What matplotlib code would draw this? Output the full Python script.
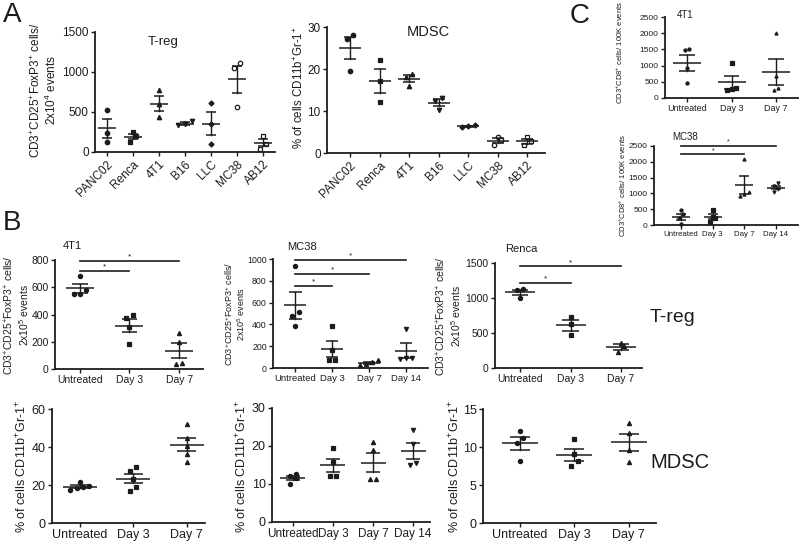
import numpy as np
import matplotlib
matplotlib.use('Agg')
import matplotlib.pyplot as plt

plt.rcParams['font.family'] = ['Liberation Sans', 'DejaVu Sans']
plt.rcParams['mathtext.fontset'] = 'custom'
plt.rcParams['mathtext.rm'] = 'Liberation Sans'
plt.rcParams['mathtext.it'] = 'Liberation Sans:italic'
plt.rcParams['mathtext.bf'] = 'Liberation Sans:bold'

# ---------------- data ----------------
A_cats = ['PANC02', 'Renca', '4T1', 'B16', 'LLC', 'MC38', 'AB12']
A_markers = ['o', 's', '^', 'v', 'D', 'o', 's']
A_filled = [True, True, True, True, True, False, False]
A_treg = [[524, 126, 240], [250, 130, 200], [775, 600, 440], [385, 335, 348],
          [616, 347, 105], [1110, 1047, 566], [197, 42, 105]]
A_mdsc = [[28.2, 27.1, 19.6], [22.1, 17.1, 12.1], [18.9, 18.2, 16.0], [13.2, 12.4, 10.3],
          [6.6, 6.4, 6.2], [3.8, 3.0, 2.0], [3.7, 2.8, 1.8]]

days3 = ['Untreated', 'Day 3', 'Day 7']
days4 = ['Untreated', 'Day 3', 'Day 7', 'Day 14']
day_markers = ['o', 's', '^', 'v']

C_4t1 = [[1512, 1470, 926, 463], [1080, 310, 290, 260], [2006, 668, 309, 257]]
C_mc38 = [[475, 338, 211, 30], [475, 264, 211, 105], [2100, 1040, 990, 930],
          [1318, 1234, 1128, 1055]]
C_mc38_sig = [(0, 2, 2236), (0, 3, 2510)]

B_treg_4t1 = [[682, 583, 554, 548], [400, 375, 305, 185], [263, 198, 44, 37]]
B_treg_4t1_sig = [(0, 1, 722), (0, 2, 795)]
B_treg_mc38 = [[939, 511, 474, 382], [382, 162, 76, 76], [76, 52, 40, 31], [361, 95, 90, 85]]
B_treg_mc38_sig = [(0, 1, 755), (0, 2, 865), (0, 3, 994)]
B_treg_renca = [[1130, 1110, 1005], [724, 625, 473], [364, 310, 222]]
B_treg_renca_sig = [(0, 1, 1221), (0, 2, 1458)]

B_mdsc_4t1 = [[21.4, 19.6, 18.9, 18.4, 17.2], [29.5, 27.5, 23, 19, 17],
              [52.1, 44.7, 40.7, 36.5, 31.9]]
B_mdsc_mc38 = [[12.7, 12.0, 11.6, 10.1], [19.6, 15.8, 12.1, 12.0],
               [21.1, 18.9, 11.4, 11.2], [24.1, 20.4, 15.4, 14.9]]
B_mdsc_renca = [[12.1, 11.2, 10.5, 8.1], [11.1, 9.1, 8.1, 7.5], [13.1, 11.8, 9.6, 8.0]]

# ---------------- drawing ----------------
W, H = 800, 546
fig = plt.figure(figsize=(8, 5.46), dpi=100)
INK = '#1c1c1c'


def make_ax(l, t, r, b):
    return fig.add_axes([l / W, 1 - b / H, (r - l) / W, (b - t) / H])


def swarm_offsets(vals, py, diam):
    order = np.argsort(vals)
    offs = np.zeros(len(vals))
    rows, cur = [], [order[0]]
    for k in order[1:]:
        if (vals[k] - vals[cur[0]]) * py < diam:
            cur.append(k)
        else:
            rows.append(cur)
            cur = [k]
    rows.append(cur)
    for row in rows:
        n = len(row)
        for j, k in enumerate(row):
            offs[k] = (j - (n - 1) / 2) * diam
    return offs


def dotplot(ax, groups, labels, markers, filled, xlim, ylim, yticks, mean_hw, ms,
            fs_tick, rot=0, sig=None, star_fs=6, fs_xtick=None):
    ax.set_xlim(*xlim)
    ax.set_ylim(*ylim)
    pos = ax.get_position()
    wpx, hpx = pos.width * W, pos.height * H
    ux = (xlim[1] - xlim[0]) / wpx
    py = hpx / (ylim[1] - ylim[0])
    diam = ms * 100 / 72 * 1.5
    for i, vals in enumerate(groups):
        vals = np.asarray(vals, float)
        offs = swarm_offsets(vals, py, diam)
        mk = markers[i]
        ax.plot(i + offs * ux, vals, ls='none', marker=mk,
                ms=ms * (0.8 if mk == 'D' else 1.0),
                mfc=INK if filled[i] else 'white', mec=INK, mew=0.9,
                clip_on=False, zorder=3)
        m = vals.mean()
        s = vals.std(ddof=1) / np.sqrt(len(vals))
        ax.plot([i - mean_hw * ux, i + mean_hw * ux], [m, m], color=INK, lw=1.1,
                zorder=4, solid_capstyle='butt')
        cw = mean_hw * 0.55
        for yy in (m - s, m + s):
            ax.plot([i - cw * ux, i + cw * ux], [yy, yy], color=INK, lw=1.1,
                    zorder=4, solid_capstyle='butt')
        ax.plot([i, i], [m - s, m + s], color=INK, lw=1.0, zorder=4)
    if sig:
        for a, b, y in sig:
            ax.plot([a, b], [y, y], color=INK, lw=1.2, clip_on=False)
            ax.text((a + b) / 2, y, '*', ha='center', va='bottom', fontsize=star_fs,
                    color=INK)
    for sp in ('top', 'right'):
        ax.spines[sp].set_visible(False)
    for sp in ('left', 'bottom'):
        ax.spines[sp].set_linewidth(1.3)
        ax.spines[sp].set_color(INK)
    ax.set_yticks(yticks)
    ax.set_xticks(range(len(groups)))
    if rot:
        ax.set_xticklabels(labels, rotation=rot, ha='right', rotation_mode='anchor')
    else:
        ax.set_xticklabels(labels)
    ax.tick_params(direction='out', length=3, width=1, colors=INK, labelsize=fs_tick,
                   pad=1.5)
    if fs_xtick:
        ax.tick_params(axis='x', labelsize=fs_xtick)
    ax.patch.set_alpha(0)


def ylab(x, y, s, fs):
    fig.text(x / W, 1 - y / H, s, rotation=90, ha='center', va='center', fontsize=fs,
             color=INK, linespacing=1.1, multialignment='center')


def label(x, y, s, fs):
    fig.text(x / W, 1 - y / H, s, ha='center', va='center', fontsize=fs, color=INK)


treg_lab = 'CD3$^{+}$CD25$^{+}$FoxP3$^{+}$ cells/\n2x10$^{%s}$ events'
mdsc_lab = '% of cells CD11b$^{+}$Gr-1$^{+}$'
cd8_lab = 'CD3$^{+}$CD8$^{+}$ cells/ 100K events'

# Panel A
ax = make_ax(95, 32, 275, 152)
dotplot(ax, A_treg, A_cats, A_markers, A_filled, (-0.46, 6.46), (0, 1500),
        [0, 500, 1000, 1500], 9, 3.2, 8.5, rot=45)
ylab(44, 90, treg_lab % '4', 8.5)
label(163, 42, 'T-reg', 9.5)

ax = make_ax(327, 27, 545, 153)
dotplot(ax, A_mdsc, A_cats, A_markers, A_filled, (-0.78, 6.6), (0, 30),
        [0, 10, 20, 30], 11, 3.2, 8.5, rot=45)
ylab(299, 88, mdsc_lab, 8.3)
label(428, 32, 'MDSC', 10.5)

# Panel C
ax = make_ax(665, 17, 798, 98)
dotplot(ax, C_4t1, days3, day_markers, [True] * 4, (-0.49, 2.49), (0, 2500),
        [0, 500, 1000, 1500, 2000, 2500], 14, 2.2, 6, fs_xtick=6.5)
ylab(620, 52, cd8_lab, 5.5)
label(685, 15, '4T1', 7)

ax = make_ax(654, 146, 798, 225)
dotplot(ax, C_mc38, days4, day_markers, [True] * 4, (-0.86, 3.7), (0, 2500),
        [0, 500, 1000, 1500, 2000, 2500], 9, 2.2, 6, sig=C_mc38_sig, star_fs=5,
        fs_xtick=5.7)
ylab(623, 185, cd8_lab, 5.5)
label(685, 137, 'MC38', 7)

# Panel B - T-reg row
ax = make_ax(55, 260, 203, 369)
dotplot(ax, B_treg_4t1, days3, day_markers, [True] * 4, (-0.5, 2.48), (0, 800),
        [0, 200, 400, 600, 800], 14, 3.0, 7.5, sig=B_treg_4t1_sig)
ylab(17, 315, treg_lab % '5', 7.5)
label(72, 246, '4T1', 8)

ax = make_ax(273, 259, 428, 368)
dotplot(ax, B_treg_mc38, days4, day_markers, [True] * 4, (-0.61, 3.6), (0, 1000),
        [0, 200, 400, 600, 800, 1000], 11, 3.0, 6.3, sig=B_treg_mc38_sig,
        fs_xtick=6.8)
ylab(235, 314, treg_lab % '5', 6.5)
label(302, 247, 'MC38', 8)

ax = make_ax(495, 263, 642, 368)
dotplot(ax, B_treg_renca, days3, day_markers, [True] * 4, (-0.5, 2.42), (0, 1500),
        [0, 500, 1000, 1500], 15, 3.0, 7.5, sig=B_treg_renca_sig)
ylab(449, 316, treg_lab % '5', 7.5)
label(521, 249, 'Renca', 8)

# Panel B - MDSC row
ax = make_ax(52, 409, 205, 523)
dotplot(ax, B_mdsc_4t1, days3, day_markers, [True] * 4, (-0.52, 2.34), (0, 60),
        [0, 20, 40, 60], 17, 3.0, 9)
ylab(22, 466, mdsc_lab, 9)

ax = make_ax(272, 408, 430, 522)
dotplot(ax, B_mdsc_mc38, days4, day_markers, [True] * 4, (-0.52, 3.42), (0, 30),
        [0, 10, 20, 30], 12.5, 3.0, 9, fs_xtick=8.5)
ylab(242, 466, mdsc_lab, 9)

ax = make_ax(483, 409, 656, 523)
dotplot(ax, B_mdsc_renca, days3, day_markers, [True] * 4, (-0.68, 2.5), (0, 15),
        [0, 5, 10, 15], 18, 3.0, 9)
ylab(455, 466, mdsc_lab, 9)

# Row labels and panel letters
label(673, 318, 'T-reg', 14)
label(680, 463, 'MDSC', 14.5)
label(12, 15, 'A', 20)
label(12, 223, 'B', 20)
label(580, 16, 'C', 20)

fig.savefig('out.png', dpi=100)
